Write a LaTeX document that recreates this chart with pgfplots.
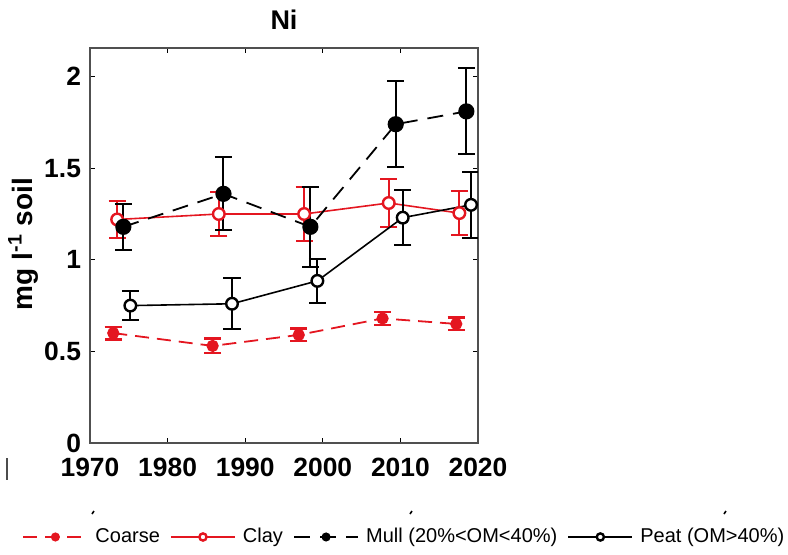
\documentclass[border=0pt]{standalone}
\usepackage{fontspec}
\setmainfont{Liberation Sans}
\usepackage{pgfplots}
\pgfplotsset{compat=1.18}
\definecolor{myred}{RGB}{228,22,32}
\definecolor{frame}{RGB}{80,80,80}
\begin{document}
\begin{tikzpicture}
\path[use as bounding box] (0pt,0pt) rectangle (394pt,-277pt);
\begin{axis}[
  at={(45pt,-221.5pt)}, anchor=south west,
  scale only axis, width=194pt, height=197.6pt,
  xmin=1970, xmax=2020, ymin=0, ymax=2.157,
  xtick={1970,1980,...,2020}, ytick={0,0.5,1,1.5,2},
  /pgf/number format/assume math mode=true,
  x tick label style={/pgf/number format/1000 sep=, yshift=-4pt},
  y tick label style={xshift=-1pt},
  tick label style={font=\fontsize{13.2}{15}\selectfont\bfseries},
  axis line style={draw=frame, line width=0.9pt},
  tick style={draw=black, line width=0.6pt},
  major tick length=2.5pt, tick align=inside,
  legend columns=4,
  legend style={at={(-0.175,-0.2378)}, anchor=west, draw=none, fill=none,
    inner sep=0pt, font=\fontsize{10}{12}\selectfont,
    /tikz/every odd column/.append style={column sep=1.5pt},
    /tikz/every even column/.append style={column sep=3pt},
    nodes={inner xsep=2.1pt}},
  legend image code/.code={\draw[mark repeat=2,mark phase=2,#1, mark size=1.8pt] plot coordinates {(0pt,0pt) (16pt,0pt) (32pt,0pt)};},
  error bars/y dir=both, error bars/y explicit,
]
\addplot[myred, line width=0.9pt, dash pattern=on 7pt off 4pt, mark=*, mark size=2.6pt,
  mark options={solid, fill=myred},
  error bars/error bar style={line width=1.1pt, solid, myred},
  error bars/error mark options={rotate=90, mark size=4.3pt, line width=1.1pt, myred}]
  coordinates {(1973,0.60) +- (0,0.035) (1985.8,0.53) +- (0,0.04) (1996.9,0.59) +- (0,0.035) (2007.7,0.68) +- (0,0.035) (2017.2,0.65) +- (0,0.035)};
\addlegendentry{Coarse}
\addplot[myred, line width=0.8pt, mark=*, mark size=2.9pt,
  mark options={solid, fill=white, line width=1.2pt},
  error bars/error bar style={line width=1pt, solid, myred},
  error bars/error mark options={rotate=90, mark size=4.3pt, line width=1pt, myred}]
  coordinates {(1973.5,1.22) +- (0,0.10) (1986.6,1.25) +- (0,0.12) (1997.6,1.25) +- (0,0.15) (2008.5,1.31) +- (0,0.13) (2017.6,1.255) +- (0,0.12)};
\addlegendentry{Clay}
\addplot[black, line width=0.9pt, dash pattern=on 8pt off 5pt, mark=*, mark size=3.6pt,
  mark options={solid, fill=black},
  error bars/error bar style={line width=1pt, solid, black},
  error bars/error mark options={rotate=90, mark size=4.3pt, line width=1pt, black}]
  coordinates {(1974.3,1.18) +- (0,0.125) (1987.2,1.36) +- (0,0.20) (1998.4,1.18) +- (0,0.22) (2009.4,1.74) +- (0,0.235) (2018.5,1.81) +- (0,0.235)};
\addlegendentry{Mull (20\%<OM<40\%)}
\addplot[black, line width=0.8pt, mark=*, mark size=2.9pt,
  mark options={solid, fill=white, line width=1.2pt},
  error bars/error bar style={line width=1pt, solid, black},
  error bars/error mark options={rotate=90, mark size=4.3pt, line width=1pt, black}]
  coordinates {(1975.2,0.75) +- (0,0.08) (1988.3,0.76) +- (0,0.14) (1999.3,0.885) +- (0,0.12) (2010.3,1.23) +- (0,0.15) (2019.1,1.30) +- (0,0.18)};
\addlegendentry{Peat (OM>40\%)}
\end{axis}
\node[font=\fontsize{13.5}{16}\selectfont\bfseries] at (142pt,-10pt) {Ni};
\node[rotate=90, font=\fontsize{14}{16}\selectfont\bfseries] at (11.5pt,-122pt) {mg l\textsuperscript{-1} soil};
\draw[black!70, line width=1pt] (3.5pt,-229pt) -- (3.5pt,-240pt);
\draw[black, line width=0.8pt] (46pt,-257pt) -- (47pt,-255.5pt);
\draw[black, line width=0.8pt] (205pt,-257pt) -- (206pt,-255.5pt);
\draw[black, line width=0.8pt] (362pt,-257pt) -- (363pt,-255.5pt);
\end{tikzpicture}
\end{document}
